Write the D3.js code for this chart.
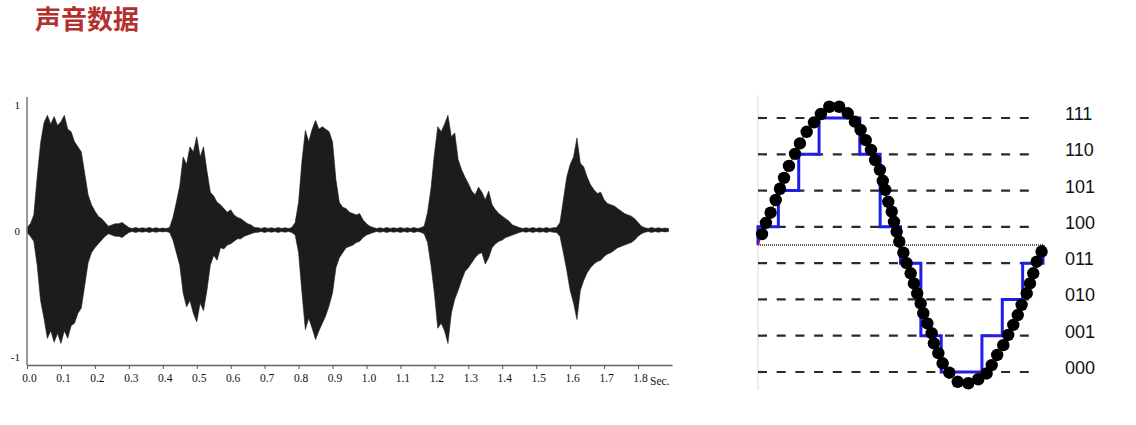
<!DOCTYPE html>
<html>
<head>
<meta charset="utf-8">
<script src="https://cdn.jsdelivr.net/npm/d3@7"></script>
<style>
  body { margin: 0; background: #fff; }
</style>
</head>
<body>
<script>
// ---- data ----
const title = '声音数据';

// waveform envelope, one value every 0.01 s (0.00 .. 1.89)
const ampUp = [
  0.02,0.05,0.12,0.42,0.69,0.85,0.91,0.84,0.90,0.83,
  0.86,0.91,0.80,0.78,0.70,0.66,0.62,0.45,0.28,0.20,
  0.15,0.11,0.09,0.06,0.03,0.04,0.05,0.05,0.06,0.04,
  0.02,0.012,0.02,0.012,0.018,0.012,0.02,0.012,0.018,0.012,
  0.015,0.012,0.02,0.10,0.22,0.35,0.58,0.52,0.66,0.62,
  0.74,0.58,0.66,0.47,0.30,0.27,0.22,0.20,0.17,0.14,
  0.16,0.12,0.10,0.09,0.07,0.05,0.04,0.02,0.018,0.012,
  0.02,0.012,0.018,0.012,0.02,0.012,0.018,0.012,0.02,0.06,
  0.22,0.55,0.79,0.70,0.80,0.87,0.80,0.82,0.80,0.78,
  0.70,0.40,0.22,0.18,0.17,0.14,0.13,0.12,0.13,0.08,
  0.05,0.03,0.02,0.012,0.018,0.012,0.02,0.012,0.018,0.012,
  0.02,0.012,0.018,0.012,0.02,0.012,0.018,0.03,0.14,0.33,
  0.60,0.82,0.78,0.84,0.91,0.74,0.77,0.56,0.48,0.42,
  0.37,0.31,0.28,0.34,0.30,0.24,0.31,0.20,0.16,0.13,
  0.11,0.09,0.07,0.04,0.03,0.02,0.012,0.018,0.012,0.02,
  0.012,0.018,0.012,0.02,0.012,0.018,0.02,0.06,0.24,0.42,
  0.52,0.58,0.73,0.53,0.50,0.42,0.36,0.32,0.29,0.30,
  0.24,0.21,0.20,0.19,0.17,0.15,0.13,0.12,0.11,0.09,
  0.06,0.03,0.018,0.012,0.02,0.012,0.018,0.012,0.015,0.012
];
const ampDown = [
  0.02,0.05,0.09,0.28,0.56,0.70,0.86,0.80,0.89,0.82,
  0.90,0.80,0.86,0.76,0.74,0.66,0.62,0.44,0.26,0.18,
  0.14,0.11,0.08,0.05,0.03,0.04,0.05,0.05,0.06,0.04,
  0.02,0.012,0.02,0.012,0.018,0.012,0.02,0.012,0.018,0.012,
  0.015,0.012,0.02,0.08,0.18,0.28,0.50,0.61,0.56,0.66,
  0.73,0.58,0.64,0.48,0.28,0.20,0.24,0.14,0.15,0.12,
  0.11,0.09,0.07,0.07,0.05,0.04,0.03,0.02,0.018,0.012,
  0.02,0.012,0.018,0.012,0.02,0.012,0.018,0.012,0.02,0.04,
  0.18,0.50,0.79,0.70,0.78,0.87,0.80,0.74,0.68,0.60,
  0.50,0.30,0.22,0.18,0.14,0.13,0.12,0.10,0.09,0.06,
  0.04,0.03,0.02,0.012,0.018,0.012,0.02,0.012,0.018,0.012,
  0.02,0.012,0.018,0.012,0.02,0.012,0.018,0.03,0.10,0.28,
  0.50,0.78,0.74,0.80,0.90,0.66,0.55,0.48,0.40,0.33,
  0.30,0.26,0.22,0.19,0.18,0.27,0.22,0.14,0.11,0.09,
  0.08,0.06,0.05,0.04,0.03,0.02,0.012,0.018,0.012,0.02,
  0.012,0.018,0.012,0.02,0.012,0.018,0.02,0.05,0.18,0.32,
  0.48,0.58,0.71,0.48,0.40,0.34,0.30,0.27,0.25,0.24,
  0.21,0.19,0.18,0.16,0.14,0.13,0.12,0.11,0.10,0.08,
  0.05,0.03,0.018,0.012,0.02,0.012,0.018,0.012,0.015,0.012
];
const timeTicks = [0,0.1,0.2,0.3,0.4,0.5,0.6,0.7,0.8,0.9,1.0,1.1,1.2,1.3,1.4,1.5,1.6,1.7,1.8];
const ampTicks = [-1, 0, 1];

// quantisation picture: sample positions (sample index units) and levels (0 = 000 .. 7 = 111)
const dotPos = [
  0.20,0.39,0.62,0.87,1.08,1.28,1.52,1.82,2.06,2.39,2.75,3.09,3.50,3.99,4.41,4.76,5.04,5.29,5.55,
  5.75,5.99,6.13,6.25,6.40,6.57,6.68,6.81,6.94,7.14,7.30,7.50,7.66,7.82,7.99,8.12,8.32,8.53,8.64,
  8.86,9.07,9.40,9.81,10.33,10.82,11.23,11.48,11.75,12.05,12.29,12.54,12.76,12.95,13.20,13.36,13.52,13.69,13.93
];
const dotLevel = [
  3.80,4.11,4.39,4.74,5.05,5.35,5.68,6.01,6.30,6.62,6.88,7.11,7.31,7.31,7.13,6.90,6.67,6.39,6.12,
  5.84,5.57,5.27,5.02,4.69,4.42,4.14,3.87,3.59,3.29,3.00,2.72,2.44,2.17,1.89,1.62,1.34,1.07,0.79,
  0.52,0.24,-0.02,-0.27,-0.31,-0.20,-0.04,0.19,0.47,0.74,1.02,1.30,1.57,1.85,2.17,2.44,2.72,3.04,3.32
];
const quantLevel = [4,5,6,7,7,6,4,3,1,0,0,1,2,3];
const levelLabels = ['000','001','010','011','100','101','110','111'];

// ---- canvas ----
const W = 1136, H = 425;
const svg = d3.select('body').append('svg')
  .attr('width', W).attr('height', H)
  .style('font-family', 'Liberation Sans, Arial, sans-serif');

svg.append('text')
  .attr('x', 35).attr('y', 29)
  .style('font-family', '"Noto Sans CJK SC", sans-serif')
  .style('font-size', '26px').style('font-weight', 700)
  .attr('fill', '#b3302e')
  .text(title);

// ---- left: waveform ----
const xL = d3.scaleLinear().domain([0, 1.9]).range([27, 672]);
const yL = d3.scaleLinear().domain([-1, 1]).range([356, 104]);

const wave = ampUp.map((u, i) => ({ t: i * 0.01, up: u, down: ampDown[i] }));

svg.append('path')
  .datum(wave)
  .attr('fill', '#1c1c1c')
  .attr('stroke', '#1c1c1c')
  .attr('stroke-width', 0.6)
  .attr('d', d3.area()
    .x(d => xL(d.t))
    .y0(d => yL(-d.down))
    .y1(d => yL(d.up)));

const serif = 'Liberation Serif, Times New Roman, serif';

const xAxis = svg.append('g')
  .attr('transform', 'translate(0,365)')
  .call(d3.axisBottom(xL).tickValues(timeTicks).tickSize(4).tickSizeOuter(0)
    .tickFormat(d3.format('.1f')));
xAxis.select('.domain').attr('stroke', '#666').attr('stroke-width', 1.5);
xAxis.selectAll('.tick line').attr('stroke', '#555');
xAxis.selectAll('.tick text')
  .attr('y', 9).attr('dx', 2)
  .style('font-family', serif)
  .style('font-size', '11.5px').attr('fill', '#111');

svg.append('text')
  .attr('x', 650).attr('y', 385)
  .style('font-family', serif)
  .style('font-size', '11.5px').attr('fill', '#111')
  .text('Sec.');

svg.append('line')
  .attr('x1', 27).attr('x2', 27).attr('y1', 97).attr('y2', 365)
  .attr('stroke', '#777').attr('stroke-width', 1.5);

svg.selectAll('.amp-label')
  .data(ampTicks)
  .join('text')
  .attr('class', 'amp-label')
  .attr('x', 20).attr('y', d => yL(d) + 1)
  .attr('text-anchor', 'end').attr('dominant-baseline', 'central')
  .style('font-family', serif)
  .style('font-size', '11px').attr('fill', '#111')
  .text(d => d);

// ---- right: quantisation ----
const xR = d3.scaleLinear().domain([0, 14]).range([758, 1043]);
const yR = d3.scaleLinear().domain([0, 7]).range([372, 118]);

svg.append('line')
  .attr('x1', 758).attr('x2', 758).attr('y1', 95).attr('y2', 390)
  .attr('stroke', '#d8d8d8').attr('stroke-width', 1);

svg.selectAll('.level-line')
  .data(levelLabels)
  .join('line')
  .attr('class', 'level-line')
  .attr('x1', xR(0)).attr('x2', xR(13.6))
  .attr('y1', (d, i) => yR(i)).attr('y2', (d, i) => yR(i))
  .attr('stroke', '#2a2a2a').attr('stroke-width', 2.2)
  .attr('stroke-dasharray', '9,9.7');

svg.append('line')
  .attr('x1', xR(0)).attr('x2', xR(14))
  .attr('y1', yR(3.5)).attr('y2', yR(3.5))
  .attr('stroke', '#555').attr('stroke-width', 2)
  .attr('stroke-dasharray', '1,1');

const stepPts = [[0, 3.5]].concat(quantLevel.map((q, i) => [i, q]),
  [[quantLevel.length, quantLevel[quantLevel.length - 1]], [quantLevel.length, 3.5]]);

svg.append('path')
  .datum(stepPts)
  .attr('fill', 'none')
  .attr('stroke', '#1e1ee6')
  .attr('stroke-width', 3)
  .attr('d', d3.line().x(d => xR(d[0])).y(d => yR(d[1])).curve(d3.curveStepAfter));

const dots = dotPos.map((p, i) => [p, dotLevel[i]]);

svg.append('path')
  .datum([[0, 3.5]].concat(dots))
  .attr('fill', 'none')
  .attr('stroke', '#dd1111')
  .attr('stroke-width', 1.2)
  .attr('d', d3.line().x(d => xR(d[0])).y(d => yR(d[1])).curve(d3.curveCatmullRom));

svg.selectAll('.sample')
  .data(dots)
  .join('circle')
  .attr('class', 'sample')
  .attr('cx', d => xR(d[0]))
  .attr('cy', d => yR(d[1]))
  .attr('r', 6.2)
  .attr('fill', '#000');

svg.selectAll('.level-label')
  .data(levelLabels)
  .join('text')
  .attr('class', 'level-label')
  .attr('x', 1065).attr('y', (d, i) => yR(i) - 4)
  .attr('dominant-baseline', 'central')
  .style('font-size', '18px').attr('fill', '#111')
  .text(d => d);
</script>
</body>
</html>
